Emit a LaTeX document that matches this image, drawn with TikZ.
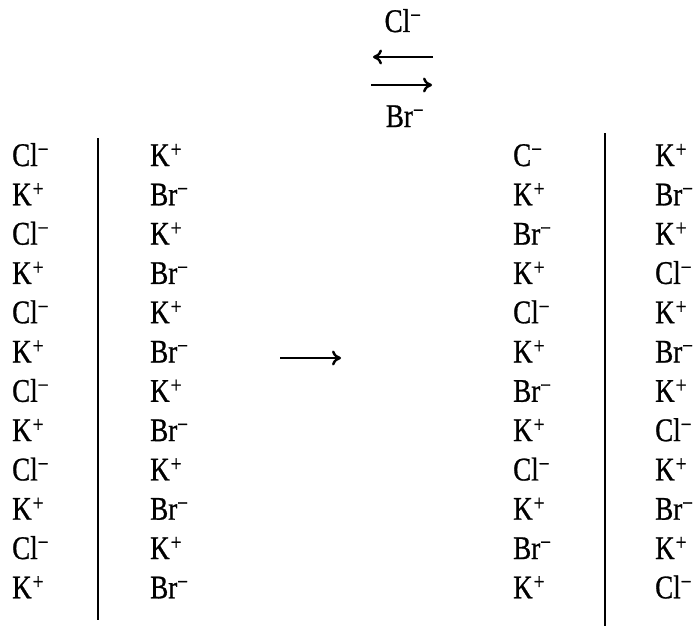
\documentclass[tikz,border=0pt]{standalone}
\usepackage{fontspec}
\setmainfont{Liberation Serif}[FakeStretch=0.82,FakeBold=0.8]
\usetikzlibrary{arrows.meta}
\newcommand{\ionm}[1]{#1\textsuperscript{−}}
\newcommand{\ionp}[1]{#1\kern1pt\textsuperscript{+}}
\tikzset{
  ion/.style={anchor=base west, inner sep=0pt, font=\fontsize{33}{33}\selectfont},
  topion/.style={anchor=base, inner sep=0pt, font=\fontsize{33}{33}\selectfont},
  wall/.style={line width=2.4pt},
  rxn/.style={line width=2.4pt, -{To[length=9pt,width=15pt,line width=2.4pt]}}
}
\begin{document}
\begin{tikzpicture}[x=1pt,y=-1pt]
\useasboundingbox (0,0) rectangle (699,626);
% top exchange arrows
\node[topion] (tcl) at (403,32) {\ionm{Cl}};
\node[topion] (tbr) at (405,127) {\ionm{Br}};
\coordinate (la1) at (433,57);
\coordinate (la2) at (373,57);
\coordinate (ra1) at (371,85);
\coordinate (ra2) at (432,85);
\draw[rxn] (la1) -- (la2);
\draw[rxn] (ra1) -- (ra2);
% left columns
\foreach \t [count=\i from 0] in {\ionm{Cl},\ionp{K},\ionm{Cl},\ionp{K},\ionm{Cl},\ionp{K},\ionm{Cl},\ionp{K},\ionm{Cl},\ionp{K},\ionm{Cl},\ionp{K}}
  \node[ion] (a\i) at (12,166+39.3*\i) {\t};
\foreach \t [count=\i from 0] in {\ionp{K},\ionm{Br},\ionp{K},\ionm{Br},\ionp{K},\ionm{Br},\ionp{K},\ionm{Br},\ionp{K},\ionm{Br},\ionp{K},\ionm{Br}}
  \node[ion] (b\i) at (150,166+39.3*\i) {\t};
\coordinate (lw1) at (98,138);
\coordinate (lw2) at (98,620);
\draw[wall] (lw1) -- (lw2);
% middle arrow
\coordinate (m1) at (280,358);
\coordinate (m2) at (341,358);
\draw[rxn] (m1) -- (m2);
% right columns
\foreach \t [count=\i from 0] in {\ionm{C},\ionp{K},\ionm{Br},\ionp{K},\ionm{Cl},\ionp{K},\ionm{Br},\ionp{K},\ionm{Cl},\ionp{K},\ionm{Br},\ionp{K}}
  \node[ion] (c\i) at (513,166+39.3*\i) {\t};
\foreach \t [count=\i from 0] in {\ionp{K},\ionm{Br},\ionp{K},\ionm{Cl},\ionp{K},\ionm{Br},\ionp{K},\ionm{Cl},\ionp{K},\ionm{Br},\ionp{K},\ionm{Cl}}
  \node[ion] (d\i) at (655,166+39.3*\i) {\t};
\coordinate (rw1) at (605,133);
\coordinate (rw2) at (605,626);
\draw[wall] (rw1) -- (rw2);
\end{tikzpicture}
\end{document}
